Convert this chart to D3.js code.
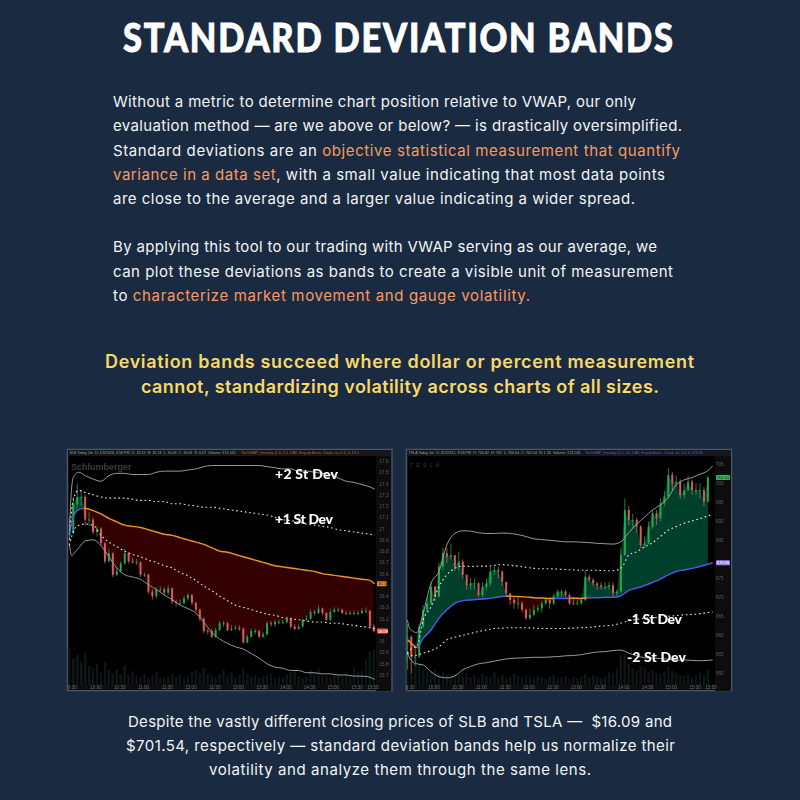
<!DOCTYPE html>
<html><head><meta charset="utf-8">
<script src="https://cdn.jsdelivr.net/npm/d3@7"></script>
<style>html,body{margin:0;padding:0;background:#1a2a40}svg{display:block}text{white-space:pre}</style>
</head><body><svg id="c" width="800" height="800"></svg>
<script>
// ---- shared sample minutes after the open for the band lines
const minutes=[0,3,6,12,20,30,40,50,60,70,80,90,100,110,120,130,140,150,160,170,180,190,200,210,220,230,240,250,260,270,280,290,300,310,320,330,340,350,360,370,380,386];
const candleStep=5;
const timeTicks=[0,30,60,90,120,150,180,210,240,270,300,330,360,380];
const timeLabels=["9:30","10:00","10:30","11:00","11:30","12:00","12:30","13:00","13:30","14:00","14:30","15:00","15:30","15:50"];

// ---- SLB
const slbPriceTicks=[15.7,15.8,15.9,16,16.2,16.3,16.4,16.6,16.7,16.8,16.9,17,17.1,17.2,17.3,17.4,17.5,17.6];
const slbUpper2=[16.96,17.37,17.47,17.50,17.47,17.44,17.42,17.47,17.49,17.49,17.48,17.48,17.48,17.50,17.51,17.51,17.51,17.52,17.53,17.55,17.56,17.56,17.56,17.56,17.56,17.56,17.56,17.55,17.54,17.53,17.53,17.51,17.51,17.50,17.49,17.48,17.45,17.42,17.41,17.39,17.37,17.35];
const slbUpper1=[16.90,17.17,17.28,17.34,17.32,17.30,17.28,17.27,17.27,17.27,17.26,17.25,17.25,17.24,17.24,17.22,17.22,17.21,17.20,17.19,17.19,17.18,17.17,17.16,17.15,17.14,17.13,17.12,17.10,17.08,17.07,17.06,17.04,17.03,17.02,17.01,16.99,16.98,16.97,16.96,16.95,16.94];
const slbVwap=[16.93,17.05,17.12,17.17,17.18,17.16,17.13,17.09,17.06,17.03,17.02,17.01,16.99,16.97,16.95,16.94,16.92,16.90,16.88,16.86,16.83,16.80,16.79,16.77,16.75,16.73,16.71,16.69,16.67,16.66,16.65,16.64,16.63,16.62,16.60,16.59,16.58,16.57,16.56,16.55,16.54,16.51];
const slbLower1=[16.85,16.93,16.99,17.03,17.04,17.03,16.94,16.88,16.84,16.80,16.77,16.75,16.72,16.70,16.67,16.65,16.61,16.58,16.54,16.49,16.45,16.40,16.36,16.32,16.30,16.28,16.26,16.24,16.23,16.21,16.20,16.19,16.18,16.17,16.17,16.16,16.16,16.15,16.14,16.13,16.12,16.11];
const slbLower2=[16.87,16.76,16.78,16.83,16.89,16.90,16.85,16.75,16.65,16.59,16.57,16.55,16.50,16.46,16.41,16.37,16.32,16.29,16.25,16.17,16.08,16.02,15.98,15.95,15.93,15.89,15.85,15.80,15.77,15.76,15.74,15.74,15.72,15.72,15.71,15.71,15.70,15.70,15.69,15.69,15.68,15.66];
const slbClose=[16.96,17.22,17.28,17.28,17.08,17.08,16.97,17.00,16.87,16.71,16.78,16.59,16.62,16.69,16.78,16.71,16.70,16.70,16.59,16.59,16.44,16.40,16.46,16.46,16.43,16.47,16.35,16.34,16.34,16.38,16.41,16.34,16.28,16.20,16.09,16.09,16.04,16.10,16.16,16.16,16.10,16.11,16.12,16.11,15.99,16.04,16.09,16.09,16.04,16.06,16.16,16.15,16.17,16.17,16.17,16.20,16.13,16.11,16.13,16.19,16.20,16.26,16.25,16.29,16.25,16.19,16.26,16.28,16.28,16.25,16.25,16.25,16.25,16.25,16.27,16.27,16.13,16.09];
const slbHigh=[17.10,17.28,17.40,17.34,17.30,17.15,17.10,17.02,17.01,16.88,16.82,16.79,16.66,16.71,16.82,16.79,16.74,16.73,16.71,16.61,16.60,16.46,16.48,16.49,16.48,16.50,16.48,16.37,16.37,16.40,16.43,16.42,16.35,16.29,16.21,16.11,16.11,16.12,16.18,16.18,16.17,16.14,16.14,16.14,16.12,16.06,16.11,16.11,16.10,16.08,16.18,16.18,16.19,16.19,16.19,16.22,16.21,16.15,16.15,16.20,16.23,16.28,16.28,16.32,16.30,16.26,16.29,16.30,16.30,16.29,16.27,16.27,16.27,16.27,16.29,16.30,16.28,16.15];
const slbLow=[16.90,16.95,17.18,17.20,17.03,17.02,16.95,16.93,16.85,16.69,16.70,16.57,16.58,16.61,16.68,16.69,16.69,16.68,16.57,16.57,16.42,16.37,16.38,16.43,16.41,16.41,16.33,16.31,16.32,16.33,16.36,16.32,16.26,16.18,16.07,16.06,16.03,16.03,16.09,16.13,16.09,16.09,16.10,16.09,15.98,15.98,16.03,16.06,16.03,16.03,16.05,16.13,16.13,16.15,16.15,16.16,16.11,16.10,16.10,16.12,16.18,16.19,16.23,16.24,16.23,16.18,16.18,16.25,16.26,16.24,16.23,16.23,16.23,16.23,16.24,16.25,16.11,16.08];
const slbVolume=[95,70,80,60,85,50,45,55,35,60,40,30,42,28,50,26,36,24,20,30,22,26,34,20,18,24,30,22,28,18,24,36,40,32,45,30,26,22,28,40,24,34,20,26,44,30,22,26,20,24,26,30,18,22,20,28,34,36,24,18,22,40,30,44,26,24,20,28,30,22,36,26,46,34,40,66,88,92];
const slbVwapBreaks=[[0,18,"blue"],[18,390,"orange"]];

// ---- TSLA
const tslaPriceTicks=[650,655,660,665,670,675,685,690,695,700,705];
const tslaUpper2=[664.0,661.8,661.2,660.7,665.8,673.7,676.8,683.8,686.8,687.5,687.4,687.0,686.8,686.8,686.9,686.8,686.5,686.0,685.4,685.2,685.0,684.8,684.6,684.6,684.5,684.4,684.2,684.1,684.0,684.6,687.0,689.3,691.1,693.0,694.3,696.3,699.6,700.9,701.5,702.4,703.3,704.6];
const tslaUpper1=[655.3,656.1,656.6,657.0,664.0,667.5,672.8,675.9,677.6,678.2,678.1,678.2,678.2,678.4,678.6,678.4,678.2,677.9,677.6,677.5,677.5,677.4,677.3,677.2,677.1,677.1,677.1,677.0,677.0,677.6,681.1,682.0,683.3,684.4,686.0,687.7,688.6,689.5,690.1,690.7,691.4,691.9];
const tslaVwap=[658.8,658.3,657.7,656.8,659.2,661.4,664.5,666.7,668.4,669.1,669.3,669.5,669.6,669.9,670.2,670.3,670.2,670.1,669.9,669.8,669.7,669.7,669.7,669.8,669.7,669.9,669.9,670.0,670.0,670.4,671.8,672.4,673.1,673.9,674.8,675.9,676.8,677.2,677.6,678.1,678.7,679.1];
const tslaLower1=[655.3,654.8,654.6,654.8,655.3,656.0,657.0,658.8,659.5,660.0,660.5,661.0,661.4,661.8,661.9,662.0,662.0,662.0,661.9,661.8,661.8,661.8,661.8,661.9,662.0,662.1,662.3,662.5,662.7,663.2,663.8,664.2,664.5,664.6,664.8,665.0,665.2,665.4,665.5,665.7,666.0,666.1];
const tslaLower2=[655.3,654.0,653.1,652.5,652.2,650.4,649.1,648.8,649.3,650.9,651.8,652.5,652.8,653.2,653.6,653.9,654.0,654.1,654.2,654.2,654.3,654.4,654.6,654.7,654.9,655.3,655.6,655.7,656.0,656.1,655.3,654.6,654.1,654.0,653.9,653.7,653.5,653.5,653.4,653.3,653.4,653.5];
const tslaClose=[659.6,654.4,654.4,662.3,666.7,668.4,672.8,670.2,678.1,681.6,680.7,681.1,678.1,679.4,675.9,673.2,673.7,673.7,670.6,672.8,673.7,676.8,677.2,676.8,674.1,671.1,669.3,668.4,668.4,666.7,664.5,665.4,666.7,667.1,668.4,669.3,668.4,670.2,671.5,671.5,670.6,668.4,668.4,668.4,669.3,675.4,674.6,673.7,673.2,672.8,672.8,673.2,671.1,671.5,681.1,693.0,690.4,690.4,688.6,683.8,684.2,688.6,692.1,690.8,694.7,696.5,702.2,700.0,700.4,696.9,698.2,700.4,698.2,698.2,698.2,695.2,701.54];
const tslaHigh=[663,660,657,663,668,670,674,673,679,683,683,684,681,682,680,676,675,675,674,674,675,678,678,678,677,674,671,670,670,669,667,667,668,668,669,670,670,671,672,672,672,671,670,670,670,677,676,675,674,674,674,674,674,672,683,696,694,692,691,689,686,690,693,693,696,698,704,703,702,701,700,702,701,700,700,699,702];
const tslaLow=[651,650,652,654,662,666,668,669,670,677,679,680,677,677,675,672,672,672,670,670,672,673,676,675,673,670,668,667,667,666,664,664,665,666,666,668,667,668,670,670,670,668,668,668,668,669,674,673,672,672,672,672,670,670,671,681,689,688,687,683,683,684,688,689,690,694,696,698,699,696,696,698,697,697,696,694,695];
const tslaVolume=[60,85,70,55,42,38,34,40,30,36,28,24,30,26,22,32,20,26,18,30,24,22,34,20,26,18,22,30,24,20,26,22,18,24,20,16,22,26,18,20,24,16,22,18,24,30,20,26,22,18,24,36,30,44,78,82,56,44,38,50,46,34,40,30,28,36,48,38,32,26,24,30,22,26,34,28,42];
const tslaVwapBreaks=[[0,12,"orange"],[12,125,"blue"],[125,185,"orange"],[185,205,"blue"],[205,228,"orange"],[228,390,"blue"]];

// ---- text
const titleText="STANDARD DEVIATION BANDS";
const bodyLines=[
 {y:106,w:523,runs:[["Without a metric to determine chart position relative to VWAP, our only",0]]},
 {y:130,w:569,runs:[["evaluation method — are we above or below? — is drastically oversimplified.",0]]},
 {y:155,w:567,runs:[["Standard deviations are an ",0],["objective statistical measurement that quantify",1]]},
 {y:179,w:552,runs:[["variance in a data set",1],[", with a small value indicating that most data points",0]]},
 {y:203,w:522,runs:[["are close to the average and a larger value indicating a wider spread.",0]]},
 {y:251,w:544,runs:[["By applying this tool to our trading with VWAP serving as our average, we",0]]},
 {y:276,w:560,runs:[["can plot these deviations as bands to create a visible unit of measurement",0]]},
 {y:300,w:417,runs:[["to ",0],["characterize market movement and gauge volatility.",1]]}
];
const calloutLines=[
 {y:368,x:105,w:589,t:"Deviation bands succeed where dollar or percent measurement"},
 {y:393,x:141,w:518,t:"cannot, standardizing volatility across charts of all sizes."}
];
const footerLines=[
 {y:727,x:128,w:544,t:"Despite the vastly different closing prices of SLB and TSLA —  $16.09 and"},
 {y:751,x:126,w:549,t:"$701.54, respectively — standard deviation bands help us normalize their"},
 {y:775,x:209,w:382,t:"volatility and analyze them through the same lens."}
];

const svg=d3.select("#c");
const F="Inter,'Noto Sans',sans-serif";
svg.append("rect").attr("width",800).attr("height",800).attr("fill","#1a2a40");
svg.append("text").text(titleText).attr("transform","translate(123,52) scale(0.86,1)")
  .attr("textLength",550/0.86).attr("lengthAdjust","spacing")
  .attr("font-family","Lato,sans-serif").attr("font-weight",900).attr("font-size",40).attr("fill","#fff")
  .attr("stroke","#fff").attr("stroke-width",0.9);

const body=svg.append("g").attr("font-family",F).attr("font-size",15).attr("fill","#f2f4f6");
bodyLines.forEach(l=>{
  const t=body.append("text").attr("x",113).attr("y",l.y+0.5).attr("textLength",l.w).attr("lengthAdjust","spacing");
  l.runs.forEach(r=>t.append("tspan").text(r[0]).attr("fill",r[1]?"#f79a63":"#f2f4f6"));
});
calloutLines.forEach(l=>svg.append("text").text(l.t).attr("x",l.x).attr("y",l.y).attr("textLength",l.w).attr("lengthAdjust","spacing")
  .attr("font-family",F).attr("font-weight",600).attr("font-size",18).attr("fill","#f8d867"));
footerLines.forEach(l=>svg.append("text").text(l.t).attr("x",l.x).attr("y",l.y).attr("textLength",l.w).attr("lengthAdjust","spacing")
  .attr("font-family",F).attr("font-size",15).attr("fill","#f2f4f6"));

const defs=svg.append("defs");
defs.append("filter").attr("id","soft").attr("x","-2%").attr("y","-2%").attr("width","104%").attr("height","104%")
  .append("feGaussianBlur").attr("stdDeviation",0.4);

function panel(o){
  const {id,frame,plot,xr,yr,dom,ticks,tickFmt,d}=o;
  const x=d3.scaleLinear().domain([0,390]).range(xr);
  const y=d3.scaleLinear().domain(dom).range(yr);
  const vol=d3.scaleLinear().domain([0,100]).range([plot.b,plot.b-38]);
  const g=svg.append("g").attr("filter","url(#soft)");
  g.append("rect").attr("x",frame.x).attr("y",frame.y).attr("width",frame.w).attr("height",frame.h)
    .attr("fill","#000").attr("stroke","#4b5563").attr("stroke-width",1.5);
  g.append("rect").attr("x",plot.r).attr("y",plot.t).attr("width",frame.x+frame.w-plot.r-1).attr("height",frame.h-6).attr("fill","#0c0d0f");
  g.append("rect").attr("x",frame.x+1).attr("y",plot.b).attr("width",frame.w-2).attr("height",frame.y+frame.h-plot.b-1).attr("fill","#0c0d0f");
  g.append("rect").attr("x",frame.x+1).attr("y",frame.y+1).attr("width",frame.w-2).attr("height",plot.t-frame.y-1).attr("fill","#17181c");
  defs.append("clipPath").attr("id",id+"clip").append("rect").attr("x",frame.x).attr("y",plot.t).attr("width",plot.r-frame.x).attr("height",plot.b-plot.t);
  const p=g.append("g").attr("clip-path",`url(#${id}clip)`);
  const step=(x(candleStep)-x(0));
  p.append("g").selectAll("rect").data(d.volume).join("rect")
    .attr("x",(v,i)=>x(i*candleStep)-1.3).attr("width",2.6)
    .attr("y",v=>vol(v)).attr("height",v=>plot.b-vol(v)).attr("fill","#0f1218");
  const vAt=d3.scaleLinear().domain(minutes).range(d.vwap);
  const rows=d.close.map((c,i)=>({m:i*candleStep,c,v:vAt(i*candleStep)}));
  const up=d3.area().x(r=>x(r.m)).y0(r=>y(r.v)).y1(r=>y(Math.max(r.c,r.v)));
  const dn=d3.area().x(r=>x(r.m)).y0(r=>y(r.v)).y1(r=>y(Math.min(r.c,r.v)));
  p.append("path").attr("d",up(rows)).attr("fill","#06412c");
  p.append("path").attr("d",dn(rows)).attr("fill","#300302");
  const cg=p.append("g").selectAll("g").data(d.close).join("g");
  const open=i=>i?d.close[i-1]:d.close[0];
  cg.append("line").attr("x1",(c,i)=>x(i*candleStep)).attr("x2",(c,i)=>x(i*candleStep))
    .attr("y1",(c,i)=>y(d.high[i])).attr("y2",(c,i)=>y(d.low[i]))
    .attr("stroke",(c,i)=>c>=open(i)?"#2a9d4f":"#c9605f").attr("stroke-width",0.8);
  cg.append("rect").attr("x",(c,i)=>x(i*candleStep)-step*0.25).attr("width",step*0.5)
    .attr("y",(c,i)=>y(Math.max(c,open(i)))).attr("height",(c,i)=>Math.max(1,Math.abs(y(c)-y(open(i)))))
    .attr("fill",(c,i)=>c>=open(i)?"#22a84e":"#d0605f");
  const line=a=>d3.line().x((v,i)=>x(minutes[i])).y(v=>y(v)).curve(d3.curveMonotoneX)(a);
  [d.u2,d.l2].forEach(a=>p.append("path").attr("d",line(a)).attr("fill","none").attr("stroke","#989898").attr("stroke-width",1));
  [d.u1,d.l1].forEach(a=>p.append("path").attr("d",line(a)).attr("fill","none").attr("stroke","#e8e8e8").attr("stroke-width",1.1).attr("stroke-dasharray","1.6 2.8"));
  d.breaks.forEach((b,i)=>{
    const cid=id+"v"+i;
    defs.append("clipPath").attr("id",cid).append("rect").attr("x",x(b[0])).attr("y",plot.t).attr("width",x(b[1])-x(b[0])).attr("height",plot.b-plot.t);
    p.append("g").attr("clip-path",`url(#${cid})`).append("path").attr("d",line(d.vwap)).attr("fill","none")
      .attr("stroke",b[2]==="blue"?"#4f58e6":"#f0902c").attr("stroke-width",1.4);
  });
  const ya=g.append("g").attr("transform",`translate(${plot.r},0)`)
    .call(d3.axisRight(y).tickValues(ticks).tickSize(0).tickPadding(o.ypad).tickFormat(tickFmt));
  ya.select(".domain").remove();
  ya.selectAll("text").attr("fill","#5d5f63").attr("font-size",4.6).attr("font-family","'Liberation Sans',sans-serif");
  const xa=g.append("g").attr("transform",`translate(2.5,${plot.b})`)
    .call(d3.axisBottom(x).tickValues(timeTicks).tickSize(0).tickPadding(1).tickFormat((v,i)=>timeLabels[i]));
  xa.select(".domain").remove();
  xa.selectAll("text").attr("fill","#6f7175").attr("font-size",4.6).attr("font-family","'Liberation Sans',sans-serif");
  g.append("text").text(o.head).attr("x",frame.x+2).attr("y",frame.y+4.4).attr("font-size",3.4).attr("textLength",o.headw).attr("lengthAdjust","spacingAndGlyphs").attr("fill","#9a9ca0").attr("font-family","'Liberation Sans',sans-serif");
  g.append("text").text(o.head2).attr("x",o.head2x).attr("y",frame.y+4.4).attr("font-size",3.4).attr("textLength",o.head2w).attr("lengthAdjust","spacingAndGlyphs").attr("fill",o.head2c).attr("font-family","'Liberation Sans',sans-serif");
  g.append("text").text(o.mark).attr("x",o.markx).attr("y",o.marky).attr("font-size",o.marks).attr("font-weight",o.markw)
    .attr("letter-spacing",o.markls).attr("fill","#3d3e40").attr("font-family",o.markf);
  o.tags.forEach(t=>{
    g.append("rect").attr("x",plot.r+1).attr("y",y(t.v)-2.5).attr("width",t.w).attr("height",5).attr("rx",1).attr("fill",t.c);
    g.append("text").text(t.t).attr("x",plot.r+2).attr("y",y(t.v)+1.5).attr("font-size",4).attr("fill",t.tc||"#222").attr("font-family","'Liberation Sans',sans-serif");
  });
  o.labels.forEach(l=>svg.append("text").text(l.t).attr("x",l.x).attr("y",l.y).attr("textLength",l.w).attr("lengthAdjust","spacing")
    .attr("font-family","Lato,sans-serif").attr("font-weight",900).attr("font-size",14).attr("fill","#fff"));
}

panel({id:"slb",frame:{x:67.5,y:449.5,w:324.5,h:241},plot:{t:456,b:685,r:376},
  xr:[69.33,377.8],yr:[675,461],dom:[15.7,17.6],ticks:slbPriceTicks,tickFmt:d3.format("~g"),ypad:3.5,
  d:{u2:slbUpper2,u1:slbUpper1,vwap:slbVwap,l1:slbLower1,l2:slbLower2,close:slbClose,high:slbHigh,low:slbLow,volume:slbVolume,breaks:slbVwapBreaks},
  head:"SLB Today 2m  D: 1/3/2020, 3:58 PM  O: 16.12  H: 16.13  L: 16.08  C: 16.09  R: 0.07  Volume: 574,162",headw:166,
  head2:"TheVWAP_Intraday (1.0, 2.0, DAY, RegularBasis, Cloud, no, 0.0, 0, 16.5",head2x:241,head2w:118,head2c:"#b8651c",
  mark:"Schlumberger",markx:71,marky:470,marks:9,markw:700,markls:0,markf:"'Liberation Sans Narrow','Liberation Sans',sans-serif",
  tags:[{v:16.51,t:"16.5",w:9.5,c:"#ee8c1d"},{v:16.09,t:"16.09",w:11,c:"#e8605e",tc:"#fff"}],
  labels:[{t:"+2 St Dev",x:275,y:479,w:63},{t:"+1 St Dev",x:275,y:524,w:58}]});

panel({id:"tsla",frame:{x:406.5,y:449.5,w:325,h:241},plot:{t:456,b:685,r:715},
  xr:[407.33,715.8],yr:[673.3,464.3],dom:[650,705],ticks:tslaPriceTicks,tickFmt:d3.format("d"),ypad:1,
  d:{u2:tslaUpper2,u1:tslaUpper1,vwap:tslaVwap,l1:tslaLower1,l2:tslaLower2,close:tslaClose,high:tslaHigh,low:tslaLow,volume:tslaVolume,breaks:tslaVwapBreaks},
  head:"TSLA Today 2m  D: 6/1/2021, 3:58 PM  O: 700.82  H: 702  L: 700.64  C: 701.54  R: 1.36  Volume: 213,536",headw:172,
  head2:"TheVWAP_Intraday (1.0, 2.0, DAY, RegularBasis, Cloud, no, 0.0, 0, 679.96",head2x:585,head2w:118,head2c:"#6a58c8",
  mark:"TESLA",markx:410,marky:467,marks:5.5,markw:400,markls:3,markf:"'Liberation Sans',sans-serif",
  tags:[{v:701.54,t:"701.54",w:14,c:"#22c25a"},{v:679.1,t:"679.96",w:14,c:"#9a82f0",tc:"#fff"}],
  labels:[{t:"-1 St Dev",x:627,y:624,w:55},{t:"-2 St Dev",x:627,y:662,w:59}]});
</script></body></html>
